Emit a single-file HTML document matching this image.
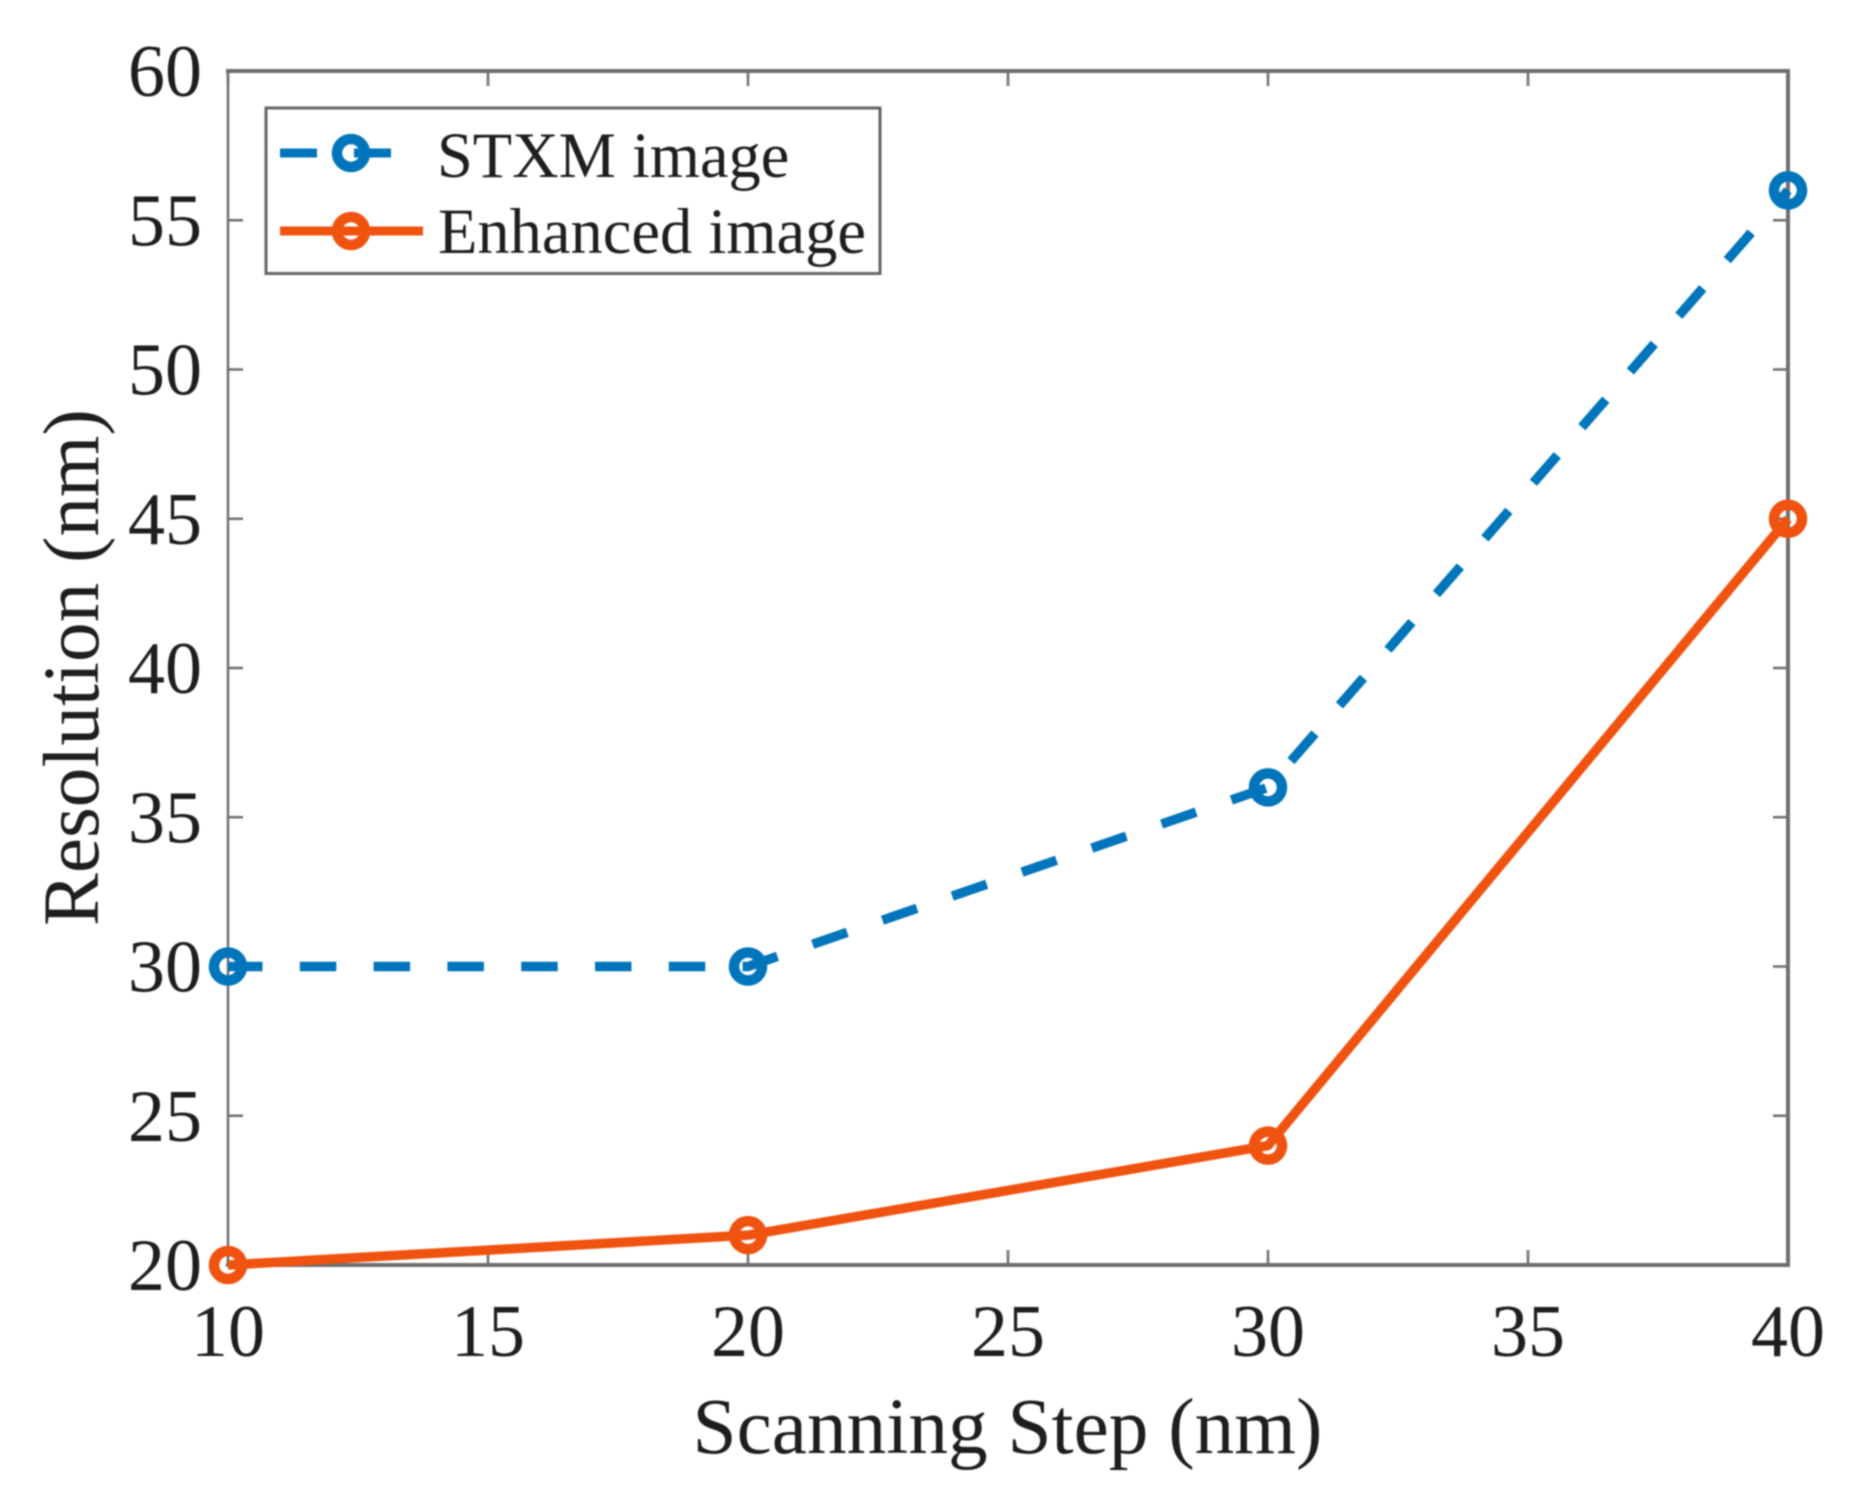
<!DOCTYPE html>
<html lang="en">
<head>
<meta charset="utf-8">
<title>Resolution vs Scanning Step</title>
<style>
  html, body { margin: 0; padding: 0; background: #ffffff; }
  body { width: 1852px; height: 1494px; overflow: hidden; }
  svg { display: block; filter: blur(0.7px); font-family: "Liberation Serif", serif; }
  text { fill: #1e1e1e; }
</style>
</head>
<body>
<svg id="chart" xmlns="http://www.w3.org/2000/svg" width="1852" height="1494" viewBox="0 0 1852 1494">
  <rect x="0" y="0" width="1852" height="1494" fill="#ffffff"/>
  <g id="axes"></g>
  <text x="692.500" y="1453" font-size="79.300">Scanning Step (nm)</text>
  <text transform="translate(98 926) rotate(-90)" font-size="79.200">Resolution (nm)</text>
  <g id="series"></g>
  <g>
    <rect x="266" y="108" width="614" height="165.500" fill="#ffffff" stroke="#666666" stroke-width="3"/>
    <line x1="280" y1="153" x2="423" y2="153" stroke="#0075bb" stroke-width="9" stroke-dasharray="37 37"/>
    <circle cx="351" cy="153" r="14" fill="none" stroke="#0075bb" stroke-width="10.500"/>
    <text x="437" y="177" font-size="64.400">STXM image</text>
    <line x1="280" y1="231" x2="423" y2="231" stroke="#f0520f" stroke-width="9"/>
    <circle cx="351" cy="231" r="14" fill="none" stroke="#f0520f" stroke-width="10.500"/>
    <text x="438" y="253" font-size="64.500">Enhanced image</text>
  </g>
</svg>
<script>
const scanningStep = [10, 20, 30, 40];
const stxmResolution = [30, 30, 36, 56];
const enhancedResolution = [20, 21, 24, 45];
const xTickLabels = [10, 15, 20, 25, 30, 35, 40];
const yTickLabels = [20, 25, 30, 35, 40, 45, 50, 55, 60];

const NS = 'http://www.w3.org/2000/svg';
const plotLeft = 228, plotRight = 1788, plotTop = 71, plotBottom = 1265;
const xMin = 10, xMax = 40, yMin = 20, yMax = 60;

function xScale(v) {
  return plotLeft + (v - xMin) / (xMax - xMin) * (plotRight - plotLeft);
}
function yScale(v) {
  return plotBottom - (v - yMin) / (yMax - yMin) * (plotBottom - plotTop);
}
function make(tag, attrs) {
  const el = document.createElementNS(NS, tag);
  for (const k in attrs) el.setAttribute(k, attrs[k]);
  return el;
}

const axes = document.getElementById('axes');
const seriesGroup = document.getElementById('series');
const axisColor = '#6e6e6e';

// Frame
const frameLines = [
  ['axis-top', plotLeft, plotTop, plotRight, plotTop, 4],
  ['axis-bottom', plotLeft, plotBottom, plotRight, plotBottom, 4],
  ['axis-left', plotLeft, plotTop, plotLeft, plotBottom, 2.5],
  ['axis-right', plotRight, plotTop, plotRight, plotBottom, 4]
];
frameLines.forEach(function (f) {
  const ln = make('line', { x1: f[1], y1: f[2], x2: f[3], y2: f[4], stroke: axisColor, 'stroke-width': f[5], 'stroke-linecap': 'square' });
  
  
  axes.appendChild(ln);
});

// X ticks
xTickLabels.forEach(function (v) {
  const x = xScale(v);
  const bottomTick = make('line', { x1: x, y1: plotBottom, x2: x, y2: plotBottom - 15, stroke: axisColor, 'stroke-width': 2.5 });
  
  
  axes.appendChild(bottomTick);
  const topTick = make('line', { x1: x, y1: plotTop, x2: x, y2: plotTop + 15, stroke: axisColor, 'stroke-width': 2.5 });
  
  
  axes.appendChild(topTick);
  const label = make('text', { x: x, y: 1356, 'text-anchor': 'middle', 'font-size': 74 });
  
  
  label.textContent = v;
  axes.appendChild(label);
});

// Y ticks
yTickLabels.forEach(function (v) {
  const y = yScale(v);
  const leftTick = make('line', { x1: plotLeft, y1: y, x2: plotLeft + 15, y2: y, stroke: axisColor, 'stroke-width': 2.5 });
  
  
  axes.appendChild(leftTick);
  const rightTick = make('line', { x1: plotRight, y1: y, x2: plotRight - 15, y2: y, stroke: axisColor, 'stroke-width': 2.5 });
  
  
  axes.appendChild(rightTick);
  const label = make('text', { x: 202, y: y + 25, 'text-anchor': 'end', 'font-size': 74 });
  
  
  label.textContent = v;
  axes.appendChild(label);
});

// Series
function drawSeries(values, color, dash, name) {
  const pts = values.map(function (v, i) {
    return xScale(scanningStep[i]).toFixed(2) + ',' + yScale(v).toFixed(2);
  }).join(' ');
  const line = make('polyline', { points: pts, fill: 'none', stroke: color, 'stroke-width': 9.5, 'stroke-linejoin': 'round' });
  if (dash) {
    line.setAttribute('stroke-dasharray', dash);
    line.setAttribute('stroke-dashoffset', '2');
  }
  
  
  seriesGroup.appendChild(line);
  values.forEach(function (v, i) {
    const c = make('circle', { cx: xScale(scanningStep[i]), cy: yScale(v), r: 14, fill: 'none', stroke: color, 'stroke-width': 10.5 });
    
    
    seriesGroup.appendChild(c);
  });
}
drawSeries(stxmResolution, '#0075bb', '36.5 37.3', 'stxm');
drawSeries(enhancedResolution, '#f0520f', null, 'enhanced');
</script>
</body>
</html>
